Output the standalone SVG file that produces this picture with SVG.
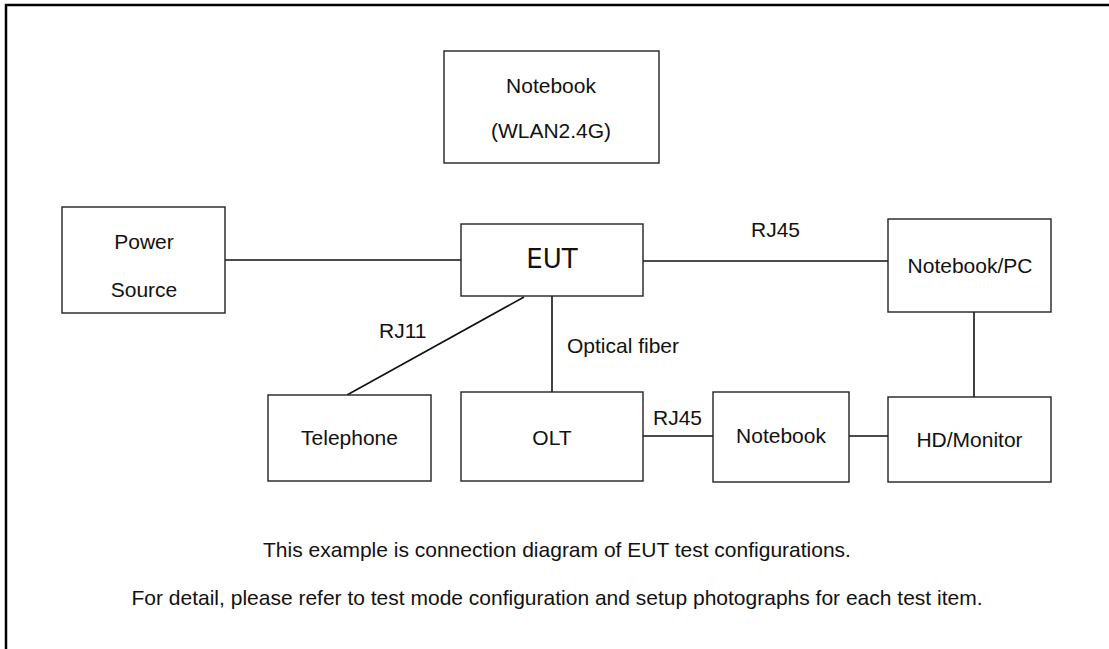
<svg xmlns="http://www.w3.org/2000/svg" width="1109" height="649" viewBox="0 0 1109 649">
<style>
.box{fill:#fff;stroke:#222;stroke-width:1.4}
.t{font-family:"Liberation Sans",Arial,sans-serif;font-size:21px;fill:#111;text-anchor:middle}
.lbl{font-family:"Liberation Sans",Arial,sans-serif;font-size:21px;fill:#111}
.eut{font-family:"DejaVu Sans",sans-serif;font-size:26px;fill:#111;text-anchor:middle}
.c{stroke:#111;stroke-width:1.6;fill:none}
</style>
<rect width="1109" height="649" fill="#fff"/>
<path d="M6,649 V5 H1109" fill="none" stroke="#000" stroke-width="2.5"/>
<g id="connectors">
<line class="c" x1="225" y1="260" x2="461" y2="260"/>
<line class="c" x1="643" y1="261" x2="888" y2="261"/>
<line class="c" x1="524" y1="297" x2="347" y2="395"/>
<line class="c" x1="552" y1="296" x2="552" y2="392"/>
<line class="c" x1="974" y1="312" x2="974" y2="397"/>
<line class="c" x1="643" y1="436" x2="713" y2="436"/>
<line class="c" x1="849" y1="436" x2="888" y2="436"/>
<text class="lbl" x="379" y="338">RJ11</text>
<text class="lbl" x="567" y="353">Optical fiber</text>
<text class="lbl" x="751" y="237">RJ45</text>
<text class="lbl" x="653" y="425">RJ45</text>
</g>
<g id="notebook-wlan">
<rect class="box" x="444" y="51" width="215" height="112"/>
<text class="t" x="551" y="93">Notebook</text>
<text class="t" x="551" y="138">(WLAN2.4G)</text>
</g>
<g id="power-source">
<rect class="box" x="62" y="207" width="163" height="106"/>
<text class="t" x="144" y="249">Power</text>
<text class="t" x="144" y="297">Source</text>
</g>
<g id="eut">
<rect class="box" x="461" y="224" width="182" height="72"/>
<text class="eut" x="552" y="268">EUT</text>
</g>
<g id="notebook-pc">
<rect class="box" x="888" y="219" width="163" height="93"/>
<text class="t" x="970" y="273">Notebook/PC</text>
</g>
<g id="telephone">
<rect class="box" x="268" y="395" width="163" height="86"/>
<text class="t" x="349.5" y="445">Telephone</text>
</g>
<g id="olt">
<rect class="box" x="461" y="392" width="182" height="89"/>
<text class="t" x="552" y="445">OLT</text>
</g>
<g id="notebook">
<rect class="box" x="713" y="392" width="136" height="90"/>
<text class="t" x="781" y="443">Notebook</text>
</g>
<g id="hd-monitor">
<rect class="box" x="888" y="397" width="163" height="85"/>
<text class="t" x="969.5" y="447">HD/Monitor</text>
</g>
<text class="t" x="557" y="557">This example is connection diagram of EUT test configurations.</text>
<text class="t" x="557" y="605">For detail, please refer to test mode configuration and setup photographs for each test item.</text>
</svg>
